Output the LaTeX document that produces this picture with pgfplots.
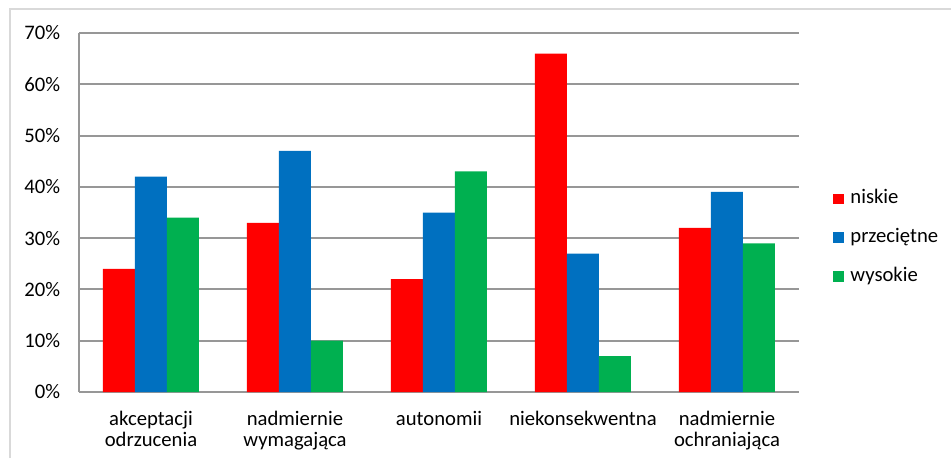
\documentclass[border=0pt]{standalone}
\usepackage{fontspec}
\setmainfont{Carlito}
\usepackage{pgfplots}
\pgfplotsset{compat=1.18}

\definecolor{cred}{HTML}{FF0000}
\definecolor{cblue}{HTML}{0070C0}
\definecolor{cgreen}{HTML}{00B050}
\definecolor{gridgray}{HTML}{979797}
\definecolor{framegray}{HTML}{D9D9D9}

\begin{document}
\begin{tikzpicture}
\useasboundingbox (0,0) rectangle (713.25pt,343.5pt);
\draw[framegray, line width=0.9pt] (7.5pt,0) -- (7.5pt,336.75pt) -- (713.25pt,336.75pt);
\begin{axis}[
    at={(59.25pt,49.5pt)}, anchor=south west,
    scale only axis, width=540pt, height=269.25pt,
    ybar=0pt, bar width=24pt,
    xmin=-0.5, xmax=4.5, ymin=0, ymax=70,
    xtick={0,...,4},
    xticklabels={akceptacji\\odrzucenia, nadmiernie\\wymagająca, autonomii,
                 niekonsekwentna, nadmiernie\\ochraniająca},
    ytick={0,10,...,70},
    yticklabel={\pgfmathprintnumber{\tick}\%},
    /pgf/number format/assume math mode=true,
    axis x line*=bottom, axis y line*=left,
    axis line style={-, gridgray, line width=1.5pt},
    ymajorgrids, grid style={gridgray, line width=1.5pt},
    ytick style={draw=none},
    xtick style={gridgray, line width=1pt},
    tick align=inside, major tick length=3.5pt,
    tick label style={font=\fontsize{15.5}{16}\selectfont},
    yticklabel style={anchor=east, inner sep=0pt, xshift=-14pt},
    xticklabel style={align=center, anchor=north, inner sep=0pt, yshift=-14pt},
    legend style={at={(rel axis cs:1.047,0.43)}, anchor=west, draw=none,
        inner sep=0pt, row sep=14.5pt,
        font=\fontsize{15.5}{16}\selectfont,
        nodes={text height=11pt, text depth=3.5pt, inner sep=0pt}},
    legend cell align=left,
    legend image code/.code={\fill[#1] (0pt,-4pt) rectangle (8pt,4pt);},
    every axis plot/.append style={draw=none},
]
\addplot[fill=cred] coordinates {(0,24) (1,33) (2,22) (3,66) (4,32)};
\addlegendentry{\hspace{5pt}niskie}
\addplot[fill=cblue] coordinates {(0,42) (1,47) (2,35) (3,27) (4,39)};
\addlegendentry{\hspace{5pt}przeciętne}
\addplot[fill=cgreen] coordinates {(0,34) (1,10) (2,43) (3,7) (4,29)};
\addlegendentry{\hspace{5pt}wysokie}
\end{axis}
\end{tikzpicture}
\end{document}
